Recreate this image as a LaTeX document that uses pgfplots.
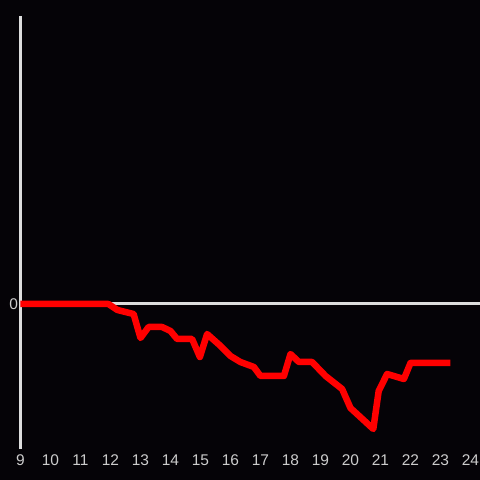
\documentclass[border=0pt]{standalone}
\usepackage{pgfplots}
\pgfplotsset{compat=1.18}
\usepackage{fontspec}
\setmainfont{Liberation Sans}
\definecolor{bg}{HTML}{050307}
\definecolor{axc}{HTML}{DDDDDD}
\definecolor{lbl}{HTML}{CCCCCC}
\definecolor{linered}{HTML}{FF0000}
\begin{document}
\begin{tikzpicture}[x=1pt,y=1pt]
\path[use as bounding box, fill=bg] (0,0) rectangle (480,480);
\begin{axis}[
    at={(20.5pt,31pt)}, anchor=south west,
    width=459.5pt, height=433pt,
    scale only axis,
    xmin=9, xmax=24.317,
    ymin=-145, ymax=288,
    axis lines*=left,
    x axis line style={draw=none},
    y axis line style={draw=axc, line width=3pt},
    xtick={9,10,...,24},
    ytick={0},
    major tick length=0pt,
    tick label style={font=\fontsize{15.5}{18}\selectfont, text=lbl},
    xticklabel style={yshift=-2pt},
    yticklabel style={xshift=1pt},
    /pgf/number format/assume math mode=true,
    clip=false,
]
% zero line
\addplot[axc, line width=3pt] coordinates {(9,0)(24.317,0)};
% series
\addplot[linered, line width=6.5pt, line join=round, line cap=butt] coordinates {
    (9,0)(11.93,0)(12.23,-6)(12.77,-10)(13.0,-34)(13.27,-23)(13.72,-23)
    (14.0,-27)(14.22,-35)(14.72,-35)(14.98,-53)(15.22,-30)(15.67,-42)
    (16.0,-52)(16.33,-58)(16.78,-63)(17.0,-72)(17.78,-72)(18.0,-50)
    (18.28,-58)(18.72,-58)(19.17,-72)(19.72,-85)(20.0,-104)(20.76,-125)
    (20.94,-87)(21.22,-70)(21.78,-75)(22.0,-59)(23.33,-59)
};
\end{axis}
\end{tikzpicture}
\end{document}
